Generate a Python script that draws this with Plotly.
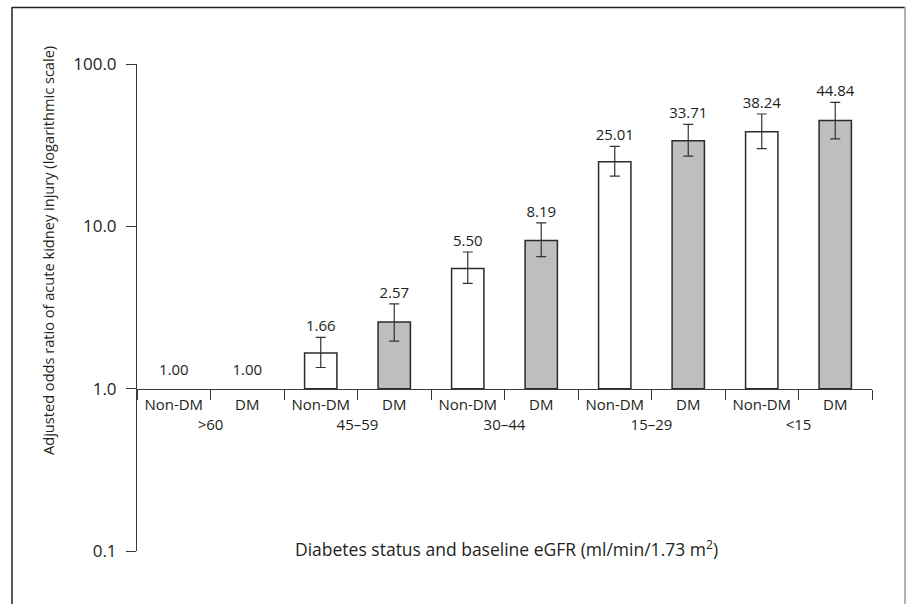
import plotly.graph_objects as go

# ---- data ----
groups = [">60", "45–59", "30–44", "15–29", "<15"]
statuses = ["Non-DM", "DM"]
odds = [1.00, 1.00, 1.66, 2.57, 5.50, 8.19, 25.01, 33.71, 38.24, 44.84]
ci_low = [None, None, 1.35, 1.96, 4.45, 6.5, 20.4, 27.1, 30.1, 34.6]
ci_high = [None, None, 2.07, 3.33, 6.95, 10.5, 31.1, 42.5, 49.2, 58.1]
y_tickvals = [0.1, 1, 10, 100]
y_ticktext = ["0.1", "1.0", "10.0", "100.0"]
BASE = 1.0  # bars rise from odds ratio 1.0

# ---- layout geometry (pixels) ----
W, H = 906, 604
L, R, T, B = 137, 34, 64, 53
PW, PH = W - L - R, H - T - B


def px(x):
    return (x - L) / PW


def py(y):
    return (H - B - y) / PH


FONT = "Open Sans, Noto Sans, sans-serif"
TXT = "#231f20"
LINE = "#3a3a3a"

xg = [g for g in groups for _ in statuses]
xs = [s for _ in groups for s in statuses]
is_ref = [lo is None for lo in ci_low]
colors = ["rgba(0,0,0,0)" if r else ("#ffffff" if s == "Non-DM" else "#bcbec0")
          for s, r in zip(xs, is_ref)]
line_w = [0 if r else 1.5 for r in is_ref]
err_plus = [0 if h is None else h - v for h, v in zip(ci_high, odds)]
err_minus = [0 if lo is None else v - lo for lo, v in zip(ci_low, odds)]

sel = [not r for r in is_ref]
ref = is_ref

fig = go.Figure()
# bars (length measured from the base at 1.0)
fig.add_trace(go.Bar(
    x=[xg, xs], y=[v - BASE for v in odds], base=BASE,
    width=0.44,
    marker=dict(color=colors, line=dict(color="#2b2b2b", width=line_w)),
    hoverinfo="skip", showlegend=False,
))
# confidence intervals
fig.add_trace(go.Scatter(
    x=[[g for g, k in zip(xg, sel) if k], [s for s, k in zip(xs, sel) if k]],
    y=[v for v, k in zip(odds, sel) if k],
    mode="markers",
    marker=dict(size=0.1, opacity=0),
    error_y=dict(type="data", symmetric=False,
                 array=[e for e, k in zip(err_plus, sel) if k],
                 arrayminus=[e for e, k in zip(err_minus, sel) if k],
                 color="#333333", thickness=1.2, width=5),
    hoverinfo="skip", showlegend=False,
))

labels = [f"{v:.2f}" for v in odds]
# labels above CI bars
fig.add_trace(go.Scatter(
    x=[[g for g, k in zip(xg, sel) if k], [s for s, k in zip(xs, sel) if k]],
    y=[h for h, k in zip(ci_high, sel) if k],
    text=[t for t, k in zip(labels, sel) if k],
    mode="markers+text", textposition="top center",
    marker=dict(size=2, opacity=0),
    textfont=dict(family=FONT, size=15, color=TXT),
    hoverinfo="skip", showlegend=False,
))
# labels for reference categories
fig.add_trace(go.Scatter(
    x=[[g for g, k in zip(xg, ref) if k], [s for s, k in zip(xs, ref) if k]],
    y=[v for v, k in zip(odds, ref) if k],
    text=[t for t, k in zip(labels, ref) if k],
    mode="markers+text", textposition="top center",
    marker=dict(size=14, opacity=0),
    textfont=dict(family=FONT, size=15, color=TXT),
    hoverinfo="skip", showlegend=False,
))

fig.update_layout(
    width=W, height=H,
    margin=dict(l=L, r=R, t=T, b=B, autoexpand=False),
    paper_bgcolor="white", plot_bgcolor="white",
    font=dict(family=FONT, color=TXT),
    xaxis=dict(
        type="multicategory", anchor="free", position=1/3,
        range=[-0.5, 9.5],
        showdividers=False, tickson="boundaries",
        ticks="outside", ticklen=10, tickcolor=LINE, tickwidth=1,
        showline=True, linecolor=LINE, linewidth=1,
        showgrid=False, zeroline=False, ticklabelstandoff=2,
        tickfont=dict(family=FONT, size=15, color=TXT),
    ),
    yaxis=dict(
        type="log", range=[-1, 2],
        tickvals=y_tickvals, ticktext=y_ticktext,
        ticks="outside", ticklen=10, tickcolor=LINE, tickwidth=1,
        showline=True, linecolor=LINE, linewidth=1,
        showgrid=False, zeroline=False, ticklabelstandoff=6,
        tickfont=dict(family=FONT, size=17, color=TXT),
    ),
    annotations=[
        dict(text="Adjusted odds ratio of acute kidney injury (logarithmic scale)",
             textangle=-90, xref="paper", yref="paper", x=px(48), y=py(251),
             showarrow=False, font=dict(family=FONT, size=14.6, color=TXT),
             xanchor="center", yanchor="middle"),
        dict(text="Diabetes status and baseline eGFR (ml/min/1.73 m<sup>2</sup>)",
             xref="paper", yref="paper", x=px(506), y=py(548),
             showarrow=False, font=dict(family=FONT, size=17.5, color=TXT),
             xanchor="center", yanchor="middle"),
    ],
    shapes=[
        dict(type="line", xref="paper", yref="paper", x0=px(12), x1=px(12), y0=py(7), y1=py(604),
             line=dict(color="#222222", width=1.5)),
        dict(type="line", xref="paper", yref="paper", x0=px(12), x1=px(905), y0=py(7.5), y1=py(7.5),
             line=dict(color="#222222", width=1.5)),
        dict(type="line", xref="paper", yref="paper", x0=px(905), x1=px(905), y0=py(7), y1=py(604),
             line=dict(color="#999999", width=1.5)),
    ],
)

fig.write_html(
    "out.html",
    config={"displayModeBar": False},
    post_script="document.body.style.margin='0';document.body.style.overflow='hidden';",
)
